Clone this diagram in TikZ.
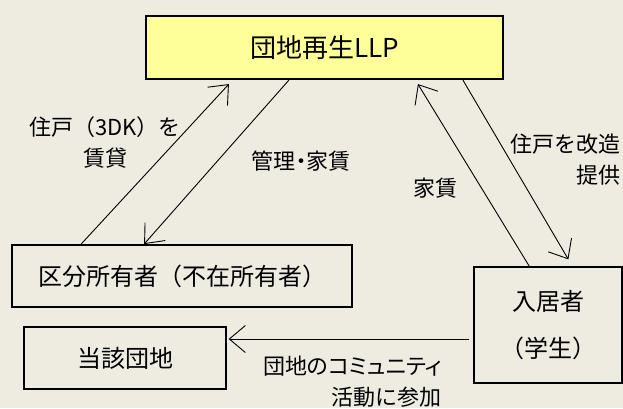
\documentclass[tikz,border=0pt]{standalone}
\usepackage{fontspec}
\setmainfont{Noto Sans CJK JP}
\newfontfamily\propfont{Noto Sans CJK JP}[RawFeature=+palt]
\usetikzlibrary{arrows.meta,positioning,calc}
\definecolor{bgbeige}{HTML}{EEECE1}
\definecolor{llpyellow}{HTML}{FFFF99}

\begin{document}
\begin{tikzpicture}[
    x=1pt, y=-1pt,
    box/.style={draw, inner sep=0pt, line width=1.3pt, font=\fontsize{24}{30}\selectfont},
    lbl/.style={inner sep=0pt, font=\fontsize{22}{31}\selectfont},
    arrow/.style={-{Straight Barb[length=16pt,width=27pt]}, line width=0.9pt}
]

% 背景
\fill[bgbeige] (0,0) rectangle (623,408);
\useasboundingbox (0,0) rectangle (623,408);

% 定义四个节点
\node[box, fill=llpyellow, line width=2.2pt, minimum width=357pt, minimum height=63pt, font=\fontsize{26}{30}\selectfont] (llp) at (324.5,47.5) {団地再生LLP};
\node[box, line width=1.8pt, minimum width=340pt, minimum height=62pt] (owner) at (182,276) {区分所有者（不在所有者）};
\node[box, minimum width=148pt, minimum height=116pt, align=center] (tenant) at (548,325) {入居者\\[17pt]（学生）};
\node[box, minimum width=202pt, minimum height=62pt] (danchi) at (125,358) {当該団地};

% 添加箭头
\draw[arrow] ([xshift=70pt]owner.north west) -- ([xshift=84pt,yshift=-4pt]llp.south west);
\draw[arrow] ([xshift=144pt]llp.south west) -- ([xshift=133pt]owner.north west);
\draw[arrow] ([xshift=56pt]tenant.north west) -- ([xshift=273pt,yshift=-4pt]llp.south west);
\draw[arrow] ([xshift=318pt]llp.south west) -- ([xshift=95pt,yshift=7pt]tenant.north west);
\draw[arrow] ([xshift=-4pt,yshift=-14pt]tenant.west) -- ([xshift=2pt,yshift=19pt]danchi.east);

% 添加标签
\node[lbl, align=center] (leaselbl) at (105,142.5) {住戸（3DK）を\\賃貸};
\node[lbl] (mgmtlbl) at (301,161) {\propfont 管理・家賃};
\node[lbl] (rentlbl) at (435,188) {家賃};
\node[lbl, align=right, anchor=east] (renovlbl) at (621,160) {住戸を改造\\提供};
\node[lbl, align=right, anchor=east] (commlbl) at (442,382) {\propfont 団地のコミュニティ\\活動に参加};

\end{tikzpicture}
\end{document}
